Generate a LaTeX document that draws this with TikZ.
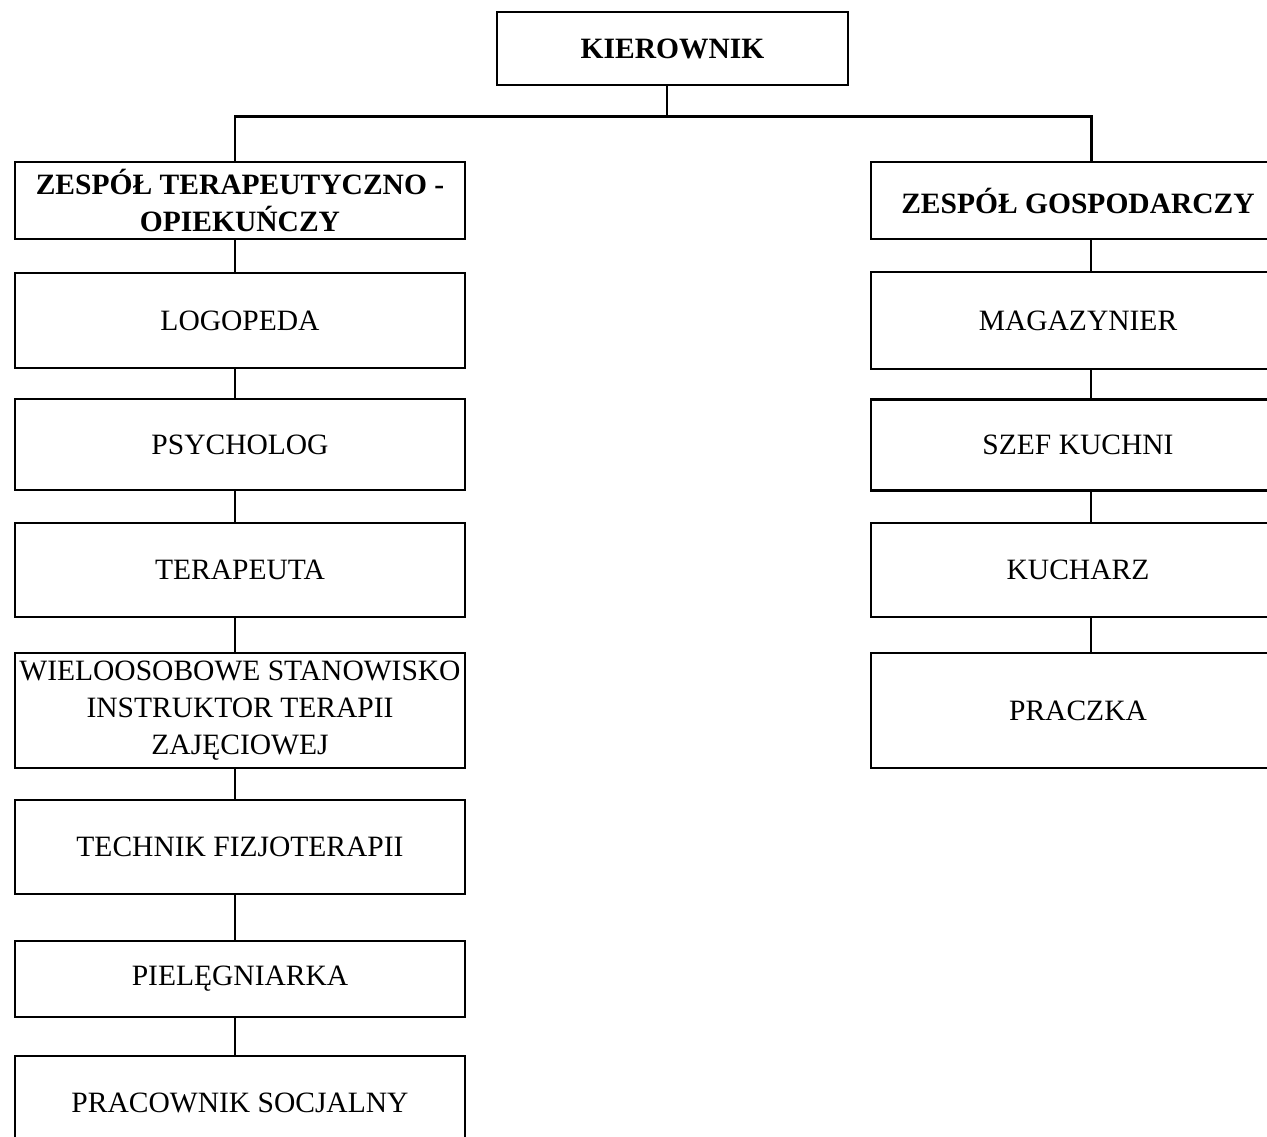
\documentclass[tikz,border=0pt]{standalone}
\usepackage{fontspec}
\setmainfont{Liberation Serif}
\begin{document}
\begin{tikzpicture}[x=0.02cm,y=-0.02cm,
  box/.style 2 args={draw,line width=1.6pt,minimum width=#1*0.02cm,minimum height=#2*0.02cm,
    inner sep=0pt,align=center,font=\fontsize{16.8}{21}\selectfont},
  headbox/.style 2 args={box={#1}{#2},font=\fontsize{16.8}{21}\selectfont\bfseries},
  link/.style={line width=1.3pt}]
\useasboundingbox (0,0) rectangle (1267,1136);
\clip (0,0) rectangle (1267,1136);
\fill[white] (0,0) rectangle (1267,1136);

\coordinate (trunkL) at (235,0);
\coordinate (trunkM) at (667,0);
\coordinate (trunkR) at (1091,0);

\node[headbox={351}{73}] (boss) at (672.5,48.5) {KIEROWNIK};

\node[headbox={450}{77}] (lhead) at (240,200.5) {ZESPÓŁ TERAPEUTYCZNO -\\OPIEKUŃCZY};
\node[box={450}{95}] (logo) at (240,320.5) {LOGOPEDA};
\node[box={450}{91}] (psych) at (240,444.5) {PSYCHOLOG};
\node[box={450}{94}] (terap) at (240,570) {TERAPEUTA};
\node[box={450}{115}] (instr) at (240,710.5) {WIELOOSOBOWE STANOWISKO\\INSTRUKTOR TERAPII\\ZAJĘCIOWEJ};
\node[box={450}{94}] (fizjo) at (240,847) {TECHNIK FIZJOTERAPII};
\node[box={450}{76}] (piel) at (240,979) {PIELĘGNIARKA};
\node[box={450}{94}] (socj) at (240,1103) {PRACOWNIK SOCJALNY};

\node[headbox={414}{77}] (rhead) at (1078,200.5) {ZESPÓŁ GOSPODARCZY};
\node[box={414}{97}] (mag) at (1078,320.5) {MAGAZYNIER};
\node[box={414}{91}] (szef) at (1078,445) {SZEF KUCHNI};
\node[box={414}{94}] (kuch) at (1078,570) {KUCHARZ};
\node[box={414}{115}] (pracz) at (1078,710.5) {PRACZKA};

% gora
\draw[link,line width=1.6pt] (boss.south -| trunkM) -- ++(0,30) coordinate (bar);
\draw[link,line width=1.7pt] (lhead.north -| trunkL) |- (bar) -| (rhead.north -| trunkR);

% kolumny
\foreach \a/\b in {lhead/logo,logo/psych,psych/terap,terap/instr,instr/fizjo,fizjo/piel,piel/socj}
  \draw[link] (\a.south -| trunkL) -- (\b.north -| trunkL);
\foreach \a/\b in {rhead/mag,mag/szef,szef/kuch,kuch/pracz}
  \draw[link] (\a.south -| trunkR) -- (\b.north -| trunkR);
\end{tikzpicture}
\end{document}
